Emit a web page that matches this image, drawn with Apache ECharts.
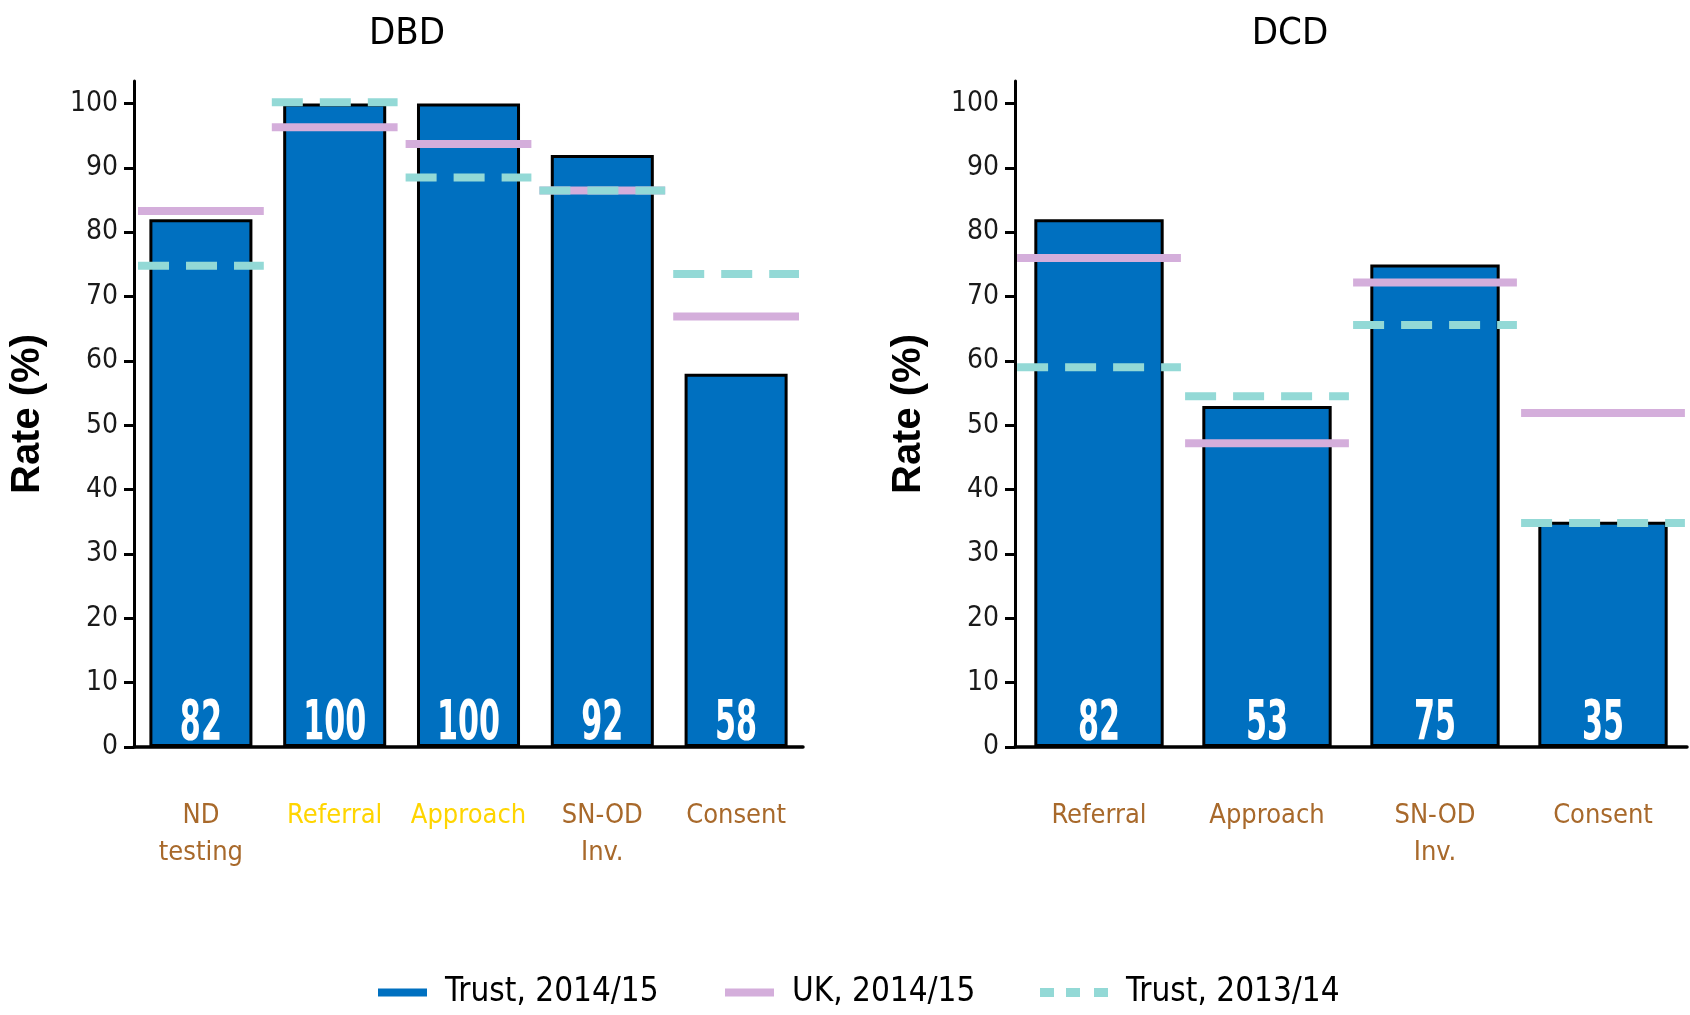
<!DOCTYPE html>
<html>
<head>
<meta charset="utf-8">
<script src="https://cdn.jsdelivr.net/npm/echarts@6/dist/echarts.min.js"></script>
<style>
html,body{margin:0;padding:0;background:#fff;}
#chart{width:1690px;height:1015px;}
</style>
</head>
<body>
<div id="chart"></div>
<script>
// ---- data ----
const yTicks = [0, 10, 20, 30, 40, 50, 60, 70, 80, 90, 100];
const panelTitles = ['DBD', 'DCD'];
const seriesNames = ['Trust, 2014/15', 'UK, 2014/15', 'Trust, 2013/14'];

const dbdCategories = ['ND\ntesting', 'Referral', 'Approach', 'SN-OD\nInv.', 'Consent'];
const dbdTrust1415 = [82, 100, 100, 92, 58];
const dbdUK1415 = [83.3, 96.3, 93.7, 86.5, 66.9];
const dbdTrust1314 = [74.8, 100.2, 88.5, 86.5, 73.5];

const dcdCategories = ['Referral', 'Approach', 'SN-OD\nInv.', 'Consent'];
const dcdTrust1415 = [82, 53, 75, 35];
const dcdUK1415 = [76.0, 47.2, 72.2, 51.9];
const dcdTrust1314 = [59.0, 54.5, 65.6, 34.8];

// ---- styles ----
const NARROW = "'DejaVu Sans Condensed', sans-serif";
const BLUE = '#0070C0';
const PINK = '#D4AEDB';
const CYAN = '#93D9D6';
const BROWN = '#A8692B';
const YELLOW = '#FFD500';
const dbdHighlight = ['Referral', 'Approach'];

function catData(cats, highlight) {
  return cats.map(c => highlight.indexOf(c) >= 0 ? {value: c, textStyle: {color: YELLOW}} : c);
}

function refLine(color, dash, ratio) {
  return function (params, api) {
    const p = api.coord([api.value(0), api.value(1)]);
    const w = api.size([1, 0])[0] * ratio;
    return {
      type: 'line',
      shape: {x1: p[0] - w / 2, y1: p[1], x2: p[0] + w / 2, y2: p[1]},
      style: {stroke: color, lineWidth: 8, lineDash: dash, fill: null}
    };
  };
}

// condensed white value label drawn at the foot of each bar
function valueLabel(params, api) {
  const base = api.coord([api.value(0), 0]);
  return {
    type: 'text', x: base[0], y: base[1] - 23, scaleX: 0.6, silent: true,
    style: {
      text: String(api.value(1)), fill: '#fff', fontSize: 56, fontWeight: 'bold',
      fontFamily: NARROW, align: 'center', verticalAlign: 'middle'
    }
  };
}

function pairs(arr) { return arr.map((v, i) => [i, v]); }

function yAxisCfg(gi) {
  return {
    type: 'value', gridIndex: gi, min: 0, max: 103.5,
    axisLine: {show: true, lineStyle: {color: '#000', width: 3}},
    axisTick: {show: true, length: 10, customValues: yTicks, lineStyle: {color: '#000', width: 3}},
    axisLabel: {customValues: yTicks, margin: 16, fontSize: 28, fontFamily: NARROW, color: '#1a1a1a'},
    splitLine: {show: false},
    name: 'Rate (%)', nameLocation: 'middle', nameGap: 86,
    nameTextStyle: {fontSize: 40, fontWeight: 'bold', fontFamily: "'Liberation Sans', sans-serif", color: '#000'}
  };
}

function xAxisCfg(gi, data) {
  return {
    type: 'category', gridIndex: gi, data: data,
    axisLine: {show: true, lineStyle: {color: '#000', width: 3.5}},
    axisTick: {show: false},
    axisLabel: {interval: 0, margin: 50, fontSize: 27, lineHeight: 37, fontFamily: NARROW, color: BROWN}
  };
}

function barSeries(gi, data) {
  return {
    name: seriesNames[0], type: 'bar', xAxisIndex: gi, yAxisIndex: gi, data: data,
    barWidth: '77%', z: 2,
    itemStyle: {color: BLUE, borderColor: '#000', borderWidth: 3}
  };
}

function labelSeries(gi, data) {
  return {
    name: seriesNames[0], type: 'custom', xAxisIndex: gi, yAxisIndex: gi, z: 6,
    data: pairs(data), itemStyle: {color: BLUE}, renderItem: valueLabel
  };
}

function lineSeries(gi, name, data, color, dash, ratio, z) {
  return {
    name: name, type: 'custom', xAxisIndex: gi, yAxisIndex: gi, z: z,
    data: pairs(data), itemStyle: {color: color},
    renderItem: refLine(color, dash, ratio)
  };
}

const legendText = {fontSize: 33, fontFamily: NARROW, color: '#000', padding: [0, 0, 0, 13]};

const option = {
  animation: false,
  backgroundColor: '#fff',
  title: [
    {text: panelTitles[0], left: 402, top: 10, textAlign: 'center',
      textStyle: {fontSize: 38, fontWeight: 'normal', fontFamily: NARROW, color: '#000'}},
    {text: panelTitles[1], left: 1285, top: 10, textAlign: 'center',
      textStyle: {fontSize: 38, fontWeight: 'normal', fontFamily: NARROW, color: '#000'}}
  ],
  legend: [
    {left: 373, top: 971, itemWidth: 49, itemHeight: 8, textStyle: legendText,
      data: [{name: seriesNames[0], icon: 'rect', itemStyle: {color: BLUE, borderWidth: 0}}], selectedMode: false},
    {left: 720, top: 971, itemWidth: 49, itemHeight: 8, textStyle: legendText,
      data: [{name: seriesNames[1], icon: 'rect'}], selectedMode: false},
    {left: 1035, top: 971, itemWidth: 68, itemHeight: 9, textStyle: legendText,
      data: [{name: seriesNames[2], icon: 'path://M0,0h14v9h-14z M26,0h14v9h-14z M54,0h14v9h-14z'}], selectedMode: false}
  ],
  grid: [
    {left: 134, top: 81, width: 669, height: 666},
    {left: 1015, top: 81, width: 672, height: 666}
  ],
  xAxis: [xAxisCfg(0, catData(dbdCategories, dbdHighlight)), xAxisCfg(1, catData(dcdCategories, []))],
  yAxis: [yAxisCfg(0), yAxisCfg(1)],
  series: [
    barSeries(0, dbdTrust1415),
    lineSeries(0, seriesNames[1], dbdUK1415, PINK, null, 0.94, 3),
    lineSeries(0, seriesNames[2], dbdTrust1314, CYAN, [31, 17], 0.94, 4),
    labelSeries(0, dbdTrust1415),
    barSeries(1, dcdTrust1415),
    lineSeries(1, seriesNames[1], dcdUK1415, PINK, null, 0.975, 3),
    lineSeries(1, seriesNames[2], dcdTrust1314, CYAN, [31, 17], 0.975, 4),
    labelSeries(1, dcdTrust1415)
  ]
};

const chart = echarts.init(document.getElementById('chart'), null, {renderer: 'canvas'});
chart.setOption(option);
</script>
</body>
</html>
